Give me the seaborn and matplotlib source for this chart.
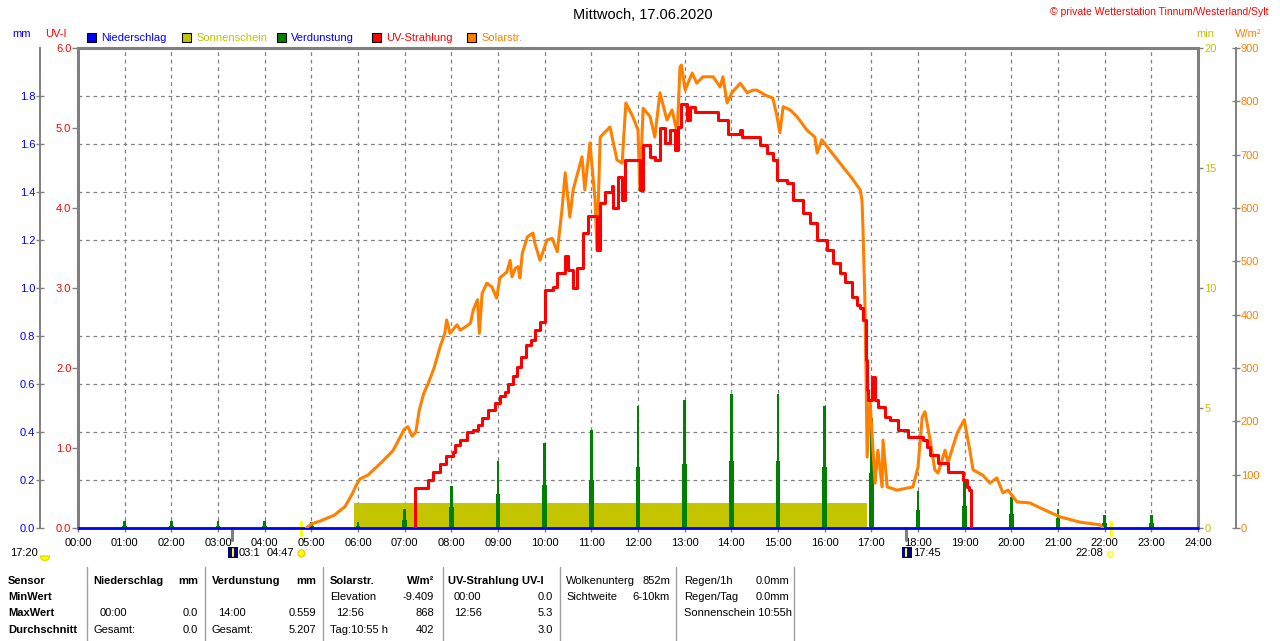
import numpy as np
import pandas as pd
import matplotlib
matplotlib.use("Agg")
import matplotlib.pyplot as plt
import seaborn as sns
from matplotlib.patches import Rectangle, Wedge
from matplotlib.ticker import MultipleLocator, FixedLocator

# ---------------- data ----------------
hour_ticks = list(range(0, 25))
hour_labels = [f"{h:02d}:00" for h in hour_ticks]

uv_ticks = [0, 1, 2, 3, 4, 5, 6]
mm_ticks = [0.0, 0.2, 0.4, 0.6, 0.8, 1.0, 1.2, 1.4, 1.6, 1.8]
min_ticks = [0, 5, 10, 15, 20]
wm_ticks = [0, 100, 200, 300, 400, 500, 600, 700, 800, 900]

solar_t = [4.89, 5.01, 5.19, 5.49, 5.72, 5.89, 5.96, 6.04, 6.21, 6.49, 6.75, 6.90, 6.99, 7.07,
           7.16, 7.24, 7.31, 7.41, 7.50, 7.63, 7.76, 7.86, 7.90, 7.97, 8.12, 8.19, 8.30, 8.41,
           8.47, 8.56, 8.60, 8.66, 8.76, 8.87, 8.97, 9.04, 9.19, 9.26, 9.30, 9.37, 9.43, 9.47,
           9.52, 9.63, 9.75, 9.79, 9.90, 10.05, 10.16, 10.27, 10.29, 10.33, 10.37, 10.44, 10.54,
           10.61, 10.80, 10.86, 10.97, 11.08, 11.12, 11.19, 11.40, 11.55, 11.66, 11.74, 11.89,
           12.00, 12.04, 12.11, 12.26, 12.36, 12.47, 12.62, 12.73, 12.84, 12.90, 12.93, 13.01,
           13.16, 13.26, 13.39, 13.61, 13.76, 13.82, 13.91, 14.01, 14.19, 14.34, 14.46, 14.55,
           14.72, 14.89, 14.98, 15.04, 15.11, 15.26, 15.41, 15.62, 15.79, 15.84, 15.94, 16.05,
           16.33, 16.61, 16.76, 16.80, 16.82, 16.86, 16.89, 16.91, 16.97, 17.08, 17.14, 17.23,
           17.25, 17.34, 17.55, 17.89, 18.00, 18.09, 18.15, 18.26, 18.36, 18.43, 18.58, 18.64,
           18.84, 18.99, 19.11, 19.18, 19.39, 19.54, 19.69, 19.82, 19.93, 20.12, 20.40, 20.61,
           21.04, 21.47, 21.90, 21.96]
solar_w = [0, 8, 13, 24, 40, 66, 80, 92, 99, 122, 145, 170, 185, 190,
           172, 180, 220, 253, 270, 300, 340, 365, 390, 365, 381, 371, 377, 384,
           409, 428, 365, 440, 459, 452, 431, 469, 480, 502, 471, 487, 490, 469,
           515, 546, 553, 534, 502, 540, 543, 518, 534, 565, 596, 666, 583,
           634, 696, 634, 722, 615, 521, 733, 752, 690, 684, 797, 771,
           746, 634, 787, 771, 733, 816, 765, 784, 741, 864, 868, 821,
           853, 834, 846, 846, 827, 846, 797, 816, 834, 816, 821, 821,
           812, 806, 771, 741, 790, 784, 771, 746, 733, 703, 728, 715,
           684, 653, 634, 615, 564, 433, 272, 133, 240, 84, 146, 77,
           165, 77, 71, 77, 114, 208, 218, 165, 109, 103, 146, 122,
           178, 203, 146, 109, 99, 84, 94, 66, 71, 49, 47, 38,
           21, 11, 6, 0]

uv_t = [7.18, 7.22, 7.41, 7.50, 7.61, 7.76, 7.89, 8.04, 8.08, 8.19, 8.34, 8.46, 8.57, 8.66,
        8.79, 8.94, 9.04, 9.15, 9.21, 9.32, 9.41, 9.49, 9.60, 9.71, 9.79, 9.90, 10.01, 10.18,
        10.26, 10.44, 10.50, 10.61, 10.69, 10.82, 10.93, 11.06, 11.12, 11.19, 11.29, 11.44,
        11.46, 11.57, 11.66, 11.72, 11.98, 12.04, 12.11, 12.26, 12.36, 12.47, 12.58, 12.69,
        12.79, 12.86, 12.93, 13.05, 13.11, 13.22, 13.65, 13.71, 13.93, 14.19, 14.23, 14.61,
        14.76, 14.89, 14.98, 15.19, 15.32, 15.54, 15.69, 15.84, 16.05, 16.18, 16.33, 16.44,
        16.59, 16.69, 16.76, 16.82, 16.89, 16.91, 16.93, 17.01, 17.08, 17.14, 17.29, 17.40,
        17.57, 17.79, 18.11, 18.19, 18.26, 18.43, 18.64, 18.96, 19.05, 19.09, 19.14]
uv_i = [0.0, 0.5, 0.5, 0.6, 0.7, 0.8, 0.9, 0.95, 1.04, 1.1, 1.2, 1.22, 1.29, 1.37,
        1.47, 1.56, 1.65, 1.7, 1.8, 1.9, 2.01, 2.14, 2.29, 2.35, 2.48, 2.58, 2.97, 3.01,
        3.19, 3.4, 3.22, 3.0, 3.25, 3.69, 3.9, 3.9, 3.47, 4.06, 4.2, 4.27,
        4.0, 4.39, 4.1, 4.6, 4.6, 4.22, 4.79, 4.64, 4.6, 5.0, 4.81, 4.97,
        4.72, 5.01, 5.3, 5.1, 5.26, 5.2, 5.2, 5.1, 4.93, 4.97, 4.89, 4.79,
        4.69, 4.6, 4.35, 4.31, 4.1, 3.94, 3.81, 3.6, 3.47, 3.31, 3.19, 3.08,
        2.89, 2.79, 2.75, 2.6, 2.1, 1.72, 1.6, 1.89, 1.6, 1.51, 1.39, 1.35,
        1.22, 1.14, 1.1, 1.01, 0.91, 0.81, 0.7, 0.6, 0.51, 0.47, 0.0]

evap_hours = list(range(1, 24))
evap_mm = [0.03, 0.03, 0.03, 0.03, 0.025, 0.025, 0.08, 0.175, 0.28, 0.354, 0.41, 0.51,
           0.533, 0.559, 0.558, 0.51, 0.46, 0.155, 0.19, 0.13, 0.08, 0.055, 0.055]
evap_low_mm = [0.01, 0.01, 0.01, 0.01, 0.01, 0.01, 0.035, 0.088, 0.14, 0.18, 0.2, 0.255,
               0.267, 0.28, 0.28, 0.254, 0.23, 0.075, 0.09, 0.06, 0.04, 0.02, 0.02]

sun_t = [5.92, 16.90]
sun_min = [1.04, 1.04]

rain_t = [0, 24]
rain_mm = [0.0, 0.0]

sunrise_h = 4.783   # 04:47
sunset_h = 22.133   # 22:08
moonrise_h = 3.30   # 03:18
moonset_h = 17.75   # 17:45

# ---------------- style ----------------
sns.set_theme(style="white")
plt.rcParams["font.family"] = ["Liberation Sans", "DejaVu Sans"]
plt.rcParams["font.size"] = 8

C_ORANGE = "#FF8000"
C_RED = "#FF0000"
C_GREEN = "#008000"
C_OLIVE = "#C4C400"
C_BLUE = "#0000FF"
C_GRAY = "#808080"

W, H = 1280, 641
fig = plt.figure(figsize=(12.8, 6.41), dpi=100)
fig.patch.set_facecolor("white")

L, R, T, B = 78, 1198, 48, 528
ax = fig.add_axes([L / W, 1 - B / H, (R - L) / W, (B - T) / H])
ax.set_facecolor("white")

# twins first (twinx resets the base axis ticks to the left)
ax_mm = ax.twinx()
ax_w = ax.twinx()
ax_uv = ax.twinx()

# base axis: minutes (sunshine), grid, x axis
ax.set_xlim(0, 24)
ax.set_ylim(0, 20)
ax.set_xticks(hour_ticks)
ax.set_xticklabels(hour_labels)
ax.yaxis.set_major_locator(FixedLocator(min_ticks))
ax.yaxis.set_minor_locator(MultipleLocator(2))
ax.set_yticklabels([str(v) for v in min_ticks])
ax.yaxis.tick_right()
ax.grid(which="major", axis="x", color=C_GRAY, linestyle=(0, (3, 3)), linewidth=0.9)
ax.grid(which="minor", axis="y", color=C_GRAY, linestyle=(0, (3, 3)), linewidth=0.9)
ax.grid(which="major", axis="y", visible=False)
ax.tick_params(axis="x", which="major", direction="out", length=3, width=1, color=C_GRAY,
               labelsize=8, pad=4, labelcolor="black", bottom=True)
ax.tick_params(axis="y", which="major", direction="out", length=3.6, width=1, color=C_GRAY,
               labelsize=8, pad=1, labelcolor=C_OLIVE, right=True, left=False,
               labelright=True, labelleft=False)
ax.tick_params(axis="y", which="minor", length=0, left=False, right=False)
for s in ["left", "top", "right"]:
    ax.spines[s].set_color(C_GRAY)
    ax.spines[s].set_linewidth(2.2)
ax.spines["bottom"].set_color(C_GRAY)
ax.spines["bottom"].set_linewidth(1)

ax.fill_between(sun_t, 0, sun_min, color=C_OLIVE, linewidth=0, zorder=2)

# precipitation / evaporation axis (mm), on the far left
ax_mm.set_ylim(0, 2)
for s in ["top", "right", "bottom"]:
    ax_mm.spines[s].set_visible(False)
ax_mm.spines["left"].set_visible(True)
ax_mm.spines["left"].set_position(("axes", -(L - 40) / (R - L)))
ax_mm.spines["left"].set_color(C_GRAY)
ax_mm.spines["left"].set_linewidth(1.4)
ax_mm.yaxis.tick_left()
ax_mm.set_yticks(mm_ticks)
ax_mm.set_yticklabels([f"{v:.1f}" for v in mm_ticks])
ax_mm.tick_params(axis="y", direction="inout", length=6, width=1, color=C_GRAY,
                  labelcolor=C_BLUE, labelsize=8, pad=0.5)
ax_mm.grid(False)
ax_mm.bar(evap_hours, evap_low_mm, width=0.10, color=C_GREEN, linewidth=0, zorder=3)
ax_mm.bar(evap_hours, evap_mm, width=0.06, color=C_GREEN, linewidth=0, zorder=3)
sns.lineplot(x=rain_t, y=rain_mm, ax=ax_mm, color=C_BLUE, linewidth=2.0, clip_on=False, zorder=5)

# solar radiation axis (W/m2), outer right
ax_w.set_ylim(0, 900)
for s in ["top", "left", "bottom"]:
    ax_w.spines[s].set_visible(False)
ax_w.spines["right"].set_position(("axes", 1 + (1236 - R) / (R - L)))
ax_w.spines["right"].set_color(C_GRAY)
ax_w.spines["right"].set_linewidth(1.4)
ax_w.set_yticks(wm_ticks)
ax_w.set_yticklabels([str(v) for v in wm_ticks])
ax_w.tick_params(axis="y", direction="inout", length=6, width=1, color=C_GRAY,
                 labelcolor=C_ORANGE, labelsize=8, pad=0.5)
ax_w.grid(False)
sns.lineplot(x=solar_t, y=solar_w, ax=ax_w, color=C_ORANGE, linewidth=2.2, sort=False)

# UV index axis, left at plot
ax_uv.set_ylim(0, 6)
for s in ["top", "left", "bottom", "right"]:
    ax_uv.spines[s].set_visible(False)
ax_uv.yaxis.tick_left()
ax_uv.set_yticks(uv_ticks)
ax_uv.set_yticklabels([f"{v:.1f}" for v in uv_ticks])
ax_uv.tick_params(axis="y", direction="out", length=4.3, width=1, color=C_GRAY,
                  labelcolor=C_RED, labelsize=8, pad=0.5)
ax_uv.grid(False)
sns.lineplot(x=uv_t, y=uv_i, ax=ax_uv, color=C_RED, linewidth=2.2, drawstyle="steps-post")

for a in (ax_mm, ax_w, ax_uv):
    a.set_xlim(0, 24)
    a.set_xlabel("")
    a.set_ylabel("")
ax.set_xlabel("")
ax.set_ylabel("")

# sunrise / sunset and moon markers on the time axis
xtr = ax.get_xaxis_transform()
for h in (sunrise_h, sunset_h):
    ax.plot([h, h], [-0.014, 0.012], transform=xtr, color="#FFFF00", linewidth=2.2,
            clip_on=False, zorder=6)
for h in (moonrise_h, moonset_h):
    ax.plot([h, h], [-0.025, 0.0], transform=xtr, color=C_GRAY, linewidth=2.2,
            clip_on=False, zorder=6)

# ---------------- overlay for texts in pixel space ----------------
ov = fig.add_axes([0, 0, 1, 1], zorder=10)
ov.set_xlim(0, W)
ov.set_ylim(H, 0)
ov.axis("off")
ov.patch.set_alpha(0)

ov.text(643, 15, "Mittwoch, 17.06.2020", ha="center", va="center", fontsize=10.5, color="black")
ov.text(1268, 12, "\u00a9 private Wetterstation Tinnum/Westerland/Sylt", ha="right", va="center",
        fontsize=7.5, color=C_RED)

ov.text(22, 34, "mm", ha="center", va="center", fontsize=8, color=C_BLUE)
ov.text(56, 34, "UV-I", ha="center", va="center", fontsize=8, color=C_RED)
ov.text(1205, 34, "min", ha="center", va="center", fontsize=8, color=C_OLIVE)
ov.text(1248, 34, "W/m\u00b2", ha="center", va="center", fontsize=8, color=C_ORANGE)

legend_items = [(87, "Niederschlag", C_BLUE, C_BLUE),
                (182, "Sonnenschein", C_OLIVE, C_OLIVE),
                (277, "Verdunstung", C_GREEN, C_BLUE),
                (372, "UV-Strahlung", C_RED, C_RED),
                (467, "Solarstr.", C_ORANGE, C_ORANGE)]
for x0, lab, fc, tc in legend_items:
    ov.add_patch(Rectangle((x0, 33), 9, 9, facecolor=fc, edgecolor="black", linewidth=0.8))
    ov.text(x0 + 14, 38, lab, ha="left", va="center", fontsize=8, color=tc)

# astro row below axis
ov.text(10, 553, "17:20", ha="left", va="center", fontsize=8, color="black")
ov.add_patch(Wedge((45, 556), 4.5, 0, 180, facecolor="#FFFF00", edgecolor="#E0E000"))
ov.add_patch(Rectangle((228, 547), 10, 11, facecolor="#000080", edgecolor="none"))
ov.plot([233, 233], [549, 556], color="#FFFF00", linewidth=1.5)
ov.text(239, 553, "03:1", ha="left", va="center", fontsize=8, color="black")
ov.text(267, 553, "04:47", ha="left", va="center", fontsize=8, color="black")
ov.plot([301], [553], marker="o", markersize=5, color="#FFFF00", markeredgecolor="#F0D000")
ov.add_patch(Rectangle((902, 547), 10, 11, facecolor="#000080", edgecolor="none"))
ov.plot([906, 906], [549, 556], color="#FFFF00", linewidth=1.5)
ov.text(913, 553, "17:45", ha="left", va="center", fontsize=8, color="black")
ov.text(1075, 553, "22:08", ha="left", va="center", fontsize=8, color="black")
ov.plot([1110], [554], marker="o", markersize=4, markerfacecolor="none", markeredgecolor="#FFFF00")

# table
rows_y = [581, 597, 613, 630]
for xs in [87, 205, 323, 443, 560, 676, 794]:
    ov.plot([xs, xs], [567, 641], color="#A0A0A0", linewidth=1)

def t(x, y, s, ha="left", bold=False):
    ov.text(x, y, s, ha=ha, va="center", fontsize=8, color="black",
            fontweight="bold" if bold else "normal")

for y, s in zip(rows_y, ["Sensor", "MinWert", "MaxWert", "Durchschnitt"]):
    t(8, y, s, bold=True)

t(93, rows_y[0], "Niederschlag", bold=True); t(198, rows_y[0], "mm", ha="right", bold=True)
t(100, rows_y[2], "00:00"); t(198, rows_y[2], "0.0", ha="right")
t(93, rows_y[3], "Gesamt:"); t(198, rows_y[3], "0.0", ha="right")

t(212, rows_y[0], "Verdunstung", bold=True); t(316, rows_y[0], "mm", ha="right", bold=True)
t(218, rows_y[2], "14:00"); t(316, rows_y[2], "0.559", ha="right")
t(212, rows_y[3], "Gesamt:"); t(316, rows_y[3], "5.207", ha="right")

t(330, rows_y[0], "Solarstr.", bold=True); t(434, rows_y[0], "W/m\u00b2", ha="right", bold=True)
t(330, rows_y[1], "Elevation"); t(434, rows_y[1], "-9.409", ha="right")
t(336, rows_y[2], "12:56"); t(434, rows_y[2], "868", ha="right")
t(330, rows_y[3], "Tag:10:55 h"); t(434, rows_y[3], "402", ha="right")

t(448, rows_y[0], "UV-Strahlung UV-I", bold=True)
t(454, rows_y[1], "00:00"); t(553, rows_y[1], "0.0", ha="right")
t(454, rows_y[2], "12:56"); t(553, rows_y[2], "5.3", ha="right")
t(553, rows_y[3], "3.0", ha="right")

t(566, rows_y[0], "Wolkenunterg"); t(670, rows_y[0], "852m", ha="right")
t(566, rows_y[1], "Sichtweite"); t(670, rows_y[1], "6-10km", ha="right")

t(684, rows_y[0], "Regen/1h"); t(789, rows_y[0], "0.0mm", ha="right")
t(684, rows_y[1], "Regen/Tag"); t(789, rows_y[1], "0.0mm", ha="right")
t(684, rows_y[2], "Sonnenschein 10:55h")

fig.savefig("out.png", dpi=100, facecolor="white")
